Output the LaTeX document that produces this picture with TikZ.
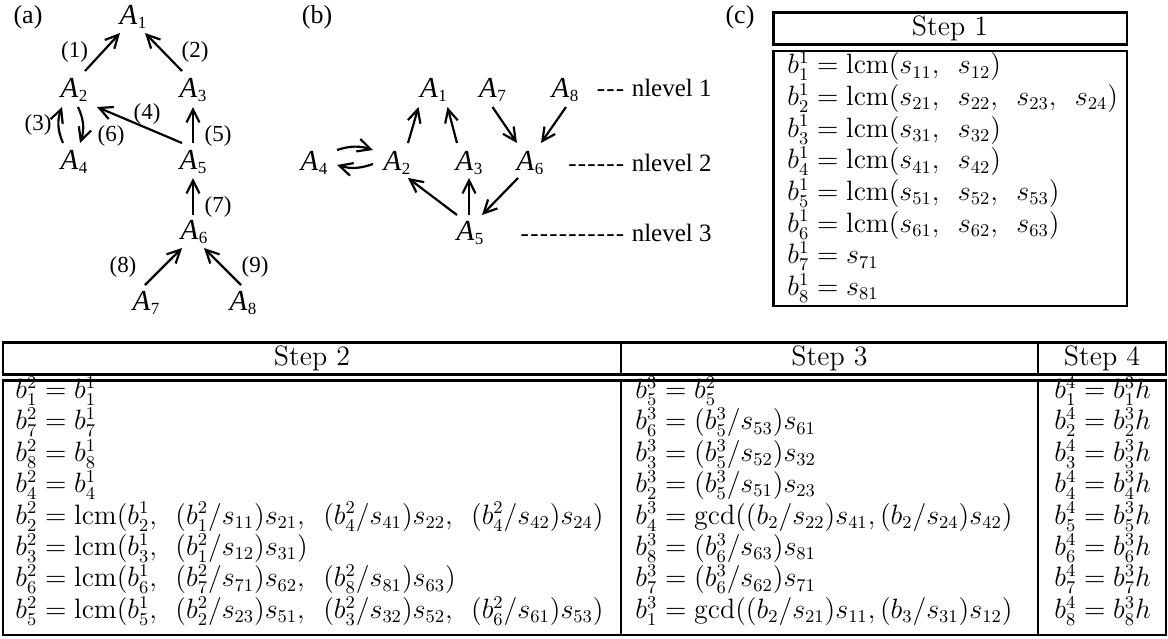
\RequirePackage{fix-cm}
\documentclass[tikz,border=0pt]{standalone}
\usepackage{fontspec}
\newfontfamily\gfont{Liberation Serif}
\usetikzlibrary{arrows.meta}
\DeclareMathSizes{14}{14}{9}{7}
\newcommand\An[1]{\textit{A}\kern0.2pt\raisebox{-2.4pt}{\fontsize{8.5}{9}\selectfont #1}}
\newcommand\hy{-\kern0.6pt}
\newcommand\Lcm{\mathrm{lcm}}
\newcommand\Gcd{\mathrm{gcd}}
\newcommand\cs{,\ \,}
\begin{document}
\begin{tikzpicture}[x=0.5pt,y=-0.5pt,
  gnode/.style={font=\gfont\fontsize{14.5}{15}\selectfont, inner sep=0pt},
  glab/.style={font=\gfont\fontsize{11.5}{12}\selectfont, inner sep=0pt},
  plab/.style={font=\gfont\fontsize{13}{14}\selectfont, inner sep=0pt},
  lev/.style={font=\gfont\fontsize{12.5}{13}\selectfont, inner sep=0pt, anchor=east},
  arr/.style={line width=1.1pt, -{Straight Barb[length=6.5pt,width=6.5pt]}},
  tbl/.style={line width=1.25pt},
  row/.style={anchor=west, inner sep=0pt, text height=10pt, text depth=4.5pt,
    font=\fontsize{14}{16}\selectfont},
  hd/.style={inner sep=0pt, font=\fontsize{14}{16}\selectfont}]
\useasboundingbox (0,0) rectangle (1168,638);

% ---------- (a) ----------
\node[plab] (la) at (28,17) {(a)};
\node[gnode] (a1) at (133,17) {\An1};
\node[gnode] (a2) at (74,90) {\An2};
\node[gnode] (a3) at (193,90) {\An3};
\node[gnode] (a4) at (74,162) {\An4};
\node[gnode] (a5) at (193,162) {\An5};
\node[gnode] (a6) at (194,232) {\An6};
\node[gnode] (a7) at (146,303) {\An7};
\node[gnode] (a8) at (243,303) {\An8};
\draw[arr] ([shift={(11,-19)}]a2.center) -- ([shift={(-13,16)}]a1.center);
\draw[arr] ([shift={(-11,-19)}]a3.center) -- ([shift={(12,16)}]a1.center);
\draw[arr] ([shift={(-11,-19)}]a4.center) to[bend left=22] ([shift={(-12,17)}]a2.center);
\draw[arr] ([shift={(4,17)}]a2.center) to[bend left=22] ([shift={(6,-19)}]a4.center);
\draw[arr] ([shift={(-11,-19)}]a5.center) -- ([shift={(23,17)}]a2.center);
\draw[arr] ([shift={(0,-19)}]a5.center) -- ([shift={(0,17)}]a3.center);
\draw[arr] ([shift={(-1,-17)}]a6.center) -- ([shift={(0,16)}]a5.center);
\draw[arr] ([shift={(-1,-18)}]a7.center) -- ([shift={(-12,16)}]a6.center);
\draw[arr] ([shift={(-2,-18)}]a8.center) -- ([shift={(10,16)}]a6.center);
\node[glab] (l1) at (74.5,52) {(1)};
\node[glab] (l2) at (195,52) {(2)};
\node[glab] (l3) at (38,125) {(3)};
\node[glab] (l4) at (147,114) {(4)};
\node[glab] (l5) at (218,136) {(5)};
\node[glab] (l6) at (111,136) {(6)};
\node[glab] (l7) at (218,207) {(7)};
\node[glab] (l8) at (123,267) {(8)};
\node[glab] (l9) at (255,267) {(9)};

% ---------- (b) ----------
\node[plab] (lb) at (317,17) {(b)};
\node[gnode] (b1) at (433.5,90) {\An1};
\node[gnode] (b7) at (492.5,90) {\An7};
\node[gnode] (b8) at (565,90) {\An8};
\node[gnode] (b4) at (314,163) {\An4};
\node[gnode] (b2) at (397,163) {\An2};
\node[gnode] (b3) at (469,163) {\An3};
\node[gnode] (b6) at (530,163) {\An6};
\node[gnode] (b5) at (470,233) {\An5};
\draw[arr] ([shift={(11,-20)}]b2.center) -- ([shift={(-15,17)}]b1.center);
\draw[arr] ([shift={(-12,-20)}]b3.center) -- ([shift={(14,17)}]b1.center);
\draw[arr] ([shift={(0,17)}]b7.center) -- ([shift={(-13,-20)}]b6.center);
\draw[arr] ([shift={(1,17)}]b8.center) -- ([shift={(11,-20)}]b6.center);
\draw[arr] ([shift={(23,-13)}]b4.center) to[bend left=18] ([shift={(-24,-13)}]b2.center);
\draw[arr] ([shift={(-24,1)}]b2.center) to[bend left=18] ([shift={(23,2)}]b4.center);
\draw[arr] ([shift={(-13,-18)}]b5.center) -- ([shift={(11,15)}]b2.center);
\draw[arr] ([shift={(-1,-18)}]b5.center) -- ([shift={(0,15)}]b3.center);
\draw[arr] ([shift={(-12,15)}]b6.center) -- ([shift={(12,-18)}]b5.center);
\node[lev] (n1) at (712,88) {\hy\hy\hy\ nlevel 1};
\node[lev] (n2) at (712,163) {\hy\hy\hy\hy\hy\hy\ nlevel 2};
\node[lev] (n3) at (712,233) {\hy\hy\hy\hy\hy\hy\hy\hy\hy\hy\hy\ nlevel 3};

% ---------- (c) Step 1 ----------
\node[plab] (lc) at (740,17) {(c)};
\draw[tbl] (773.5,12.7) rectangle (1127,44.3);
\draw[tbl] (773.5,51) rectangle (1127,306);
\node[hd] (h1) at (950,28.5) {Step 1};
\foreach \txt [count=\i] in {
  {$b_1^1=\Lcm(s_{11}\cs s_{12})$},
  {$b_2^1=\Lcm(s_{21}\cs s_{22}\cs s_{23}\cs s_{24})$},
  {$b_3^1=\Lcm(s_{31}\cs s_{32})$},
  {$b_4^1=\Lcm(s_{41}\cs s_{42})$},
  {$b_5^1=\Lcm(s_{51}\cs s_{52}\cs s_{53})$},
  {$b_6^1=\Lcm(s_{61}\cs s_{62}\cs s_{63})$},
  {$b_7^1=s_{71}$},
  {$b_8^1=s_{81}$}}
  \node[row] (sa-\i) at (787,{68.3+31.67*(\i-1)}) {\txt};

% ---------- Steps 2-4 ----------
\draw[tbl] (3,342.7) rectangle (1166,374.3);
\draw[tbl] (621,342.7) -- (621,374.3) (1038,342.7) -- (1038,374.3);
\draw[tbl] (3,380.5) rectangle (1166,635);
\draw[tbl] (621,380.5) -- (621,635) (1038,380.5) -- (1038,635);
\node[hd] (h2) at (312,358.5) {Step 2};
\node[hd] (h3) at (829.5,358.5) {Step 3};
\node[hd] (h4) at (1102,358.5) {Step 4};
\foreach \txt [count=\i] in {
  {$b_1^2=b_1^1$},
  {$b_7^2=b_7^1$},
  {$b_8^2=b_8^1$},
  {$b_4^2=b_4^1$},
  {$b_2^2=\Lcm(b_2^1\cs (b_1^2/s_{11})s_{21}\cs (b_4^2/s_{41})s_{22}\cs (b_4^2/s_{42})s_{24})$},
  {$b_3^2=\Lcm(b_3^1\cs (b_1^2/s_{12})s_{31})$},
  {$b_6^2=\Lcm(b_6^1\cs (b_7^2/s_{71})s_{62}\cs (b_8^2/s_{81})s_{63})$},
  {$b_5^2=\Lcm(b_5^1\cs (b_2^2/s_{23})s_{51}\cs (b_3^2/s_{32})s_{52}\cs (b_6^2/s_{61})s_{53})$}}
  \node[row] (sb-\i) at (15,{393+31.4*(\i-1)}) {\txt};
\foreach \txt [count=\i] in {
  {$b_5^3=b_5^2$},
  {$b_6^3=(b_5^3/s_{53})s_{61}$},
  {$b_3^3=(b_5^3/s_{52})s_{32}$},
  {$b_2^3=(b_5^3/s_{51})s_{23}$},
  {$b_4^3=\Gcd((b_2/s_{22})s_{41},(b_2/s_{24})s_{42})$},
  {$b_8^3=(b_6^3/s_{63})s_{81}$},
  {$b_7^3=(b_6^3/s_{62})s_{71}$},
  {$b_1^3=\Gcd((b_2/s_{21})s_{11},(b_3/s_{31})s_{12})$}}
  \node[row] (sc-\i) at (635,{393+31.4*(\i-1)}) {\txt};
\foreach \k [count=\i] in {1,2,3,4,5,6,7,8}
  \node[row] (sd-\i) at (1054,{393+31.4*(\i-1)}) {$b_{\k}^4=b_{\k}^3h$};
\end{tikzpicture}
\end{document}
